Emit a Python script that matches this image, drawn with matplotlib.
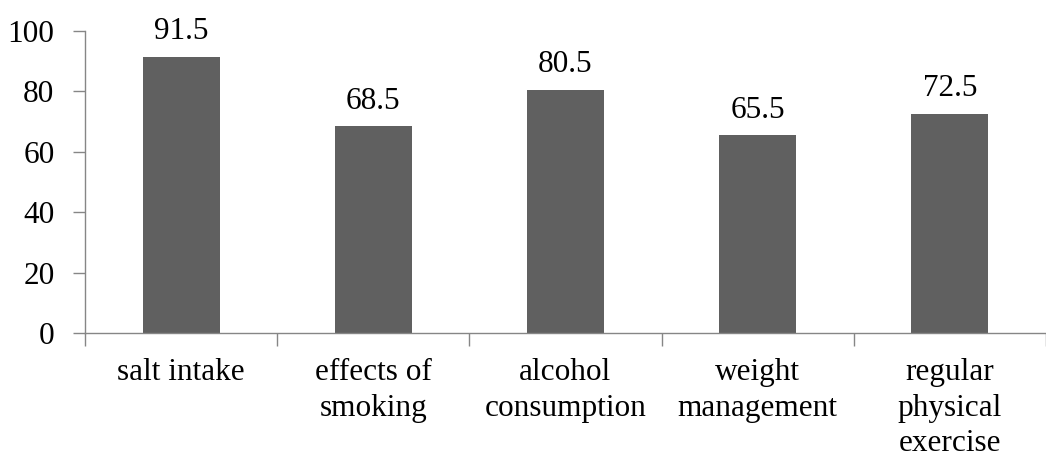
import matplotlib.pyplot as plt
import numpy as np

categories = ["salt intake", "effects of\nsmoking", "alcohol\nconsumption",
              "weight\nmanagement", "regular\nphysical\nexercise"]
scores = [91.5, 68.5, 80.5, 65.5, 72.5]
y_ticks = [0, 20, 40, 60, 80, 100]

plt.rcParams["font.family"] = ["Liberation Serif", "DejaVu Serif"]
plt.rcParams["font.size"] = 22.5

fig = plt.figure(figsize=(10.46, 4.57), dpi=100)
ax = fig.add_axes([85 / 1046, 124 / 457, 961 / 1046, 302 / 457])

x = np.arange(len(categories))
bars = ax.bar(x, scores, width=0.4, color="#606060", zorder=2)
for b, v in zip(bars, scores):
    ax.text(b.get_x() + b.get_width() / 2, v + 3.5, f"{v:.1f}",
            ha="center", va="bottom")

ax.set_ylim(0, 100)
ax.set_xlim(-0.5, -0.5 + 961 / 194.5)
ax.set_yticks(y_ticks)

# category labels sit between boundary ticks
ax.set_xticks(np.arange(-0.5, len(categories), 1.0))
ax.set_xticklabels([])
ax.set_xticks(x, minor=True)
ax.set_xticklabels(categories, minor=True, linespacing=1.3)
ax.tick_params(axis="x", which="minor", length=0, pad=18)
ax.tick_params(axis="x", which="major", length=9, color="#868686", width=1)
ax.tick_params(axis="y", length=9, color="#868686", width=1, pad=13)

for side in ["top", "right"]:
    ax.spines[side].set_visible(False)
for side in ["left", "bottom"]:
    ax.spines[side].set_color("#868686")
    ax.spines[side].set_linewidth(1)

fig.savefig("out.png", dpi=100)
